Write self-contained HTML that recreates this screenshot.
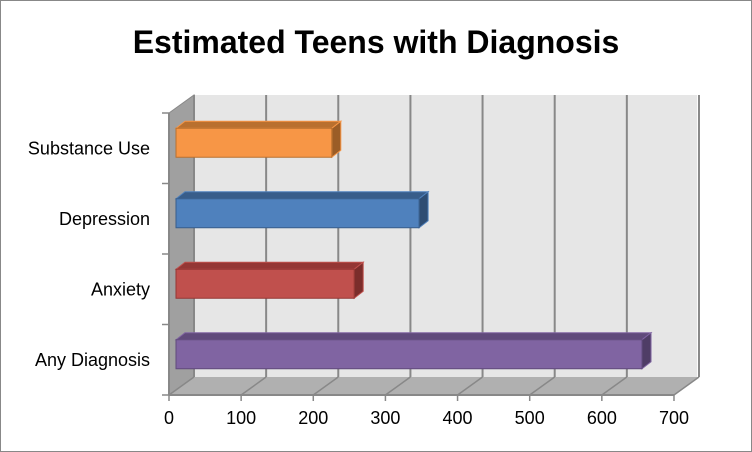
<!DOCTYPE html>
<html><head><meta charset="utf-8"><style>
body{margin:0;background:#fff}
svg{display:block;font-family:"Liberation Sans",Arial,sans-serif}
</style></head><body>
<svg id="c" width="752" height="452" viewBox="0 0 752 452">
<rect x="0.5" y="0.5" width="751" height="451" fill="#fff" stroke="#888"/>
<text x="376" y="53" text-anchor="middle" font-size="32" font-weight="bold" fill="#000">Estimated Teens with Diagnosis</text>
<g id="plot"></g>
</svg>
<script>
const categories=["Any Diagnosis","Anxiety","Depression","Substance Use"];
const values=[646,247,337,216];
const ticks=[0,100,200,300,400,500,600,700];
const colors=[["#8064a2","#604a7b","#4f3d66"],["#c0504d","#943634","#7b2d2b"],["#4f81bd","#385d8a","#2e4d73"],["#f79646","#b9702f","#9b5d27"]];
const NS="http://www.w3.org/2000/svg";
const g=document.getElementById('plot');
const fx0=169,bx0=194,sc=0.7214,fy=395,by=377,dX=25,dY=18,plotTop=113;
function xF(v){return fx0+v*sc;}
function yCat(i){return 395-(i+0.5)*70.5;}
function mk(t,a){const e=document.createElementNS(NS,t);for(const k in a)e.setAttribute(k,a[k]);g.appendChild(e);return e;}
let e;
e=mk('polygon',{points:`${bx0},${plotTop-dY} 697,${plotTop-dY} 697,${by} ${bx0},${by}`,fill:'#e6e6e6'});


e=mk('polygon',{points:`${fx0},${plotTop} ${bx0},${plotTop-dY} ${bx0},${by} ${fx0},${fy}`,fill:'#a0a0a0',stroke:'#888'});


e=mk('polygon',{points:`${fx0},${fy} ${bx0},${by} ${xF(700)+dX},${by} ${xF(700)},${fy}`,fill:'#b0b0b0'});


ticks.forEach(t=>{
 const x=xF(t);
 e=mk('line',{x1:x+dX,y1:plotTop-dY,x2:x+dX,y2:by,stroke:'#888','stroke-width':2});
 
 
 e=mk('line',{x1:x,y1:fy,x2:x+dX,y2:by,stroke:'#888','stroke-width':1.5});
 
 
 e=mk('line',{x1:x,y1:fy,x2:x,y2:fy+6,stroke:'#888','stroke-width':1.5});
 
 
 e=mk('text',{x:x,y:fy+29,'text-anchor':'middle','font-size':18,fill:'#000'});e.textContent=t;
 
 
});
e=mk('line',{x1:fx0,y1:fy,x2:xF(700),y2:fy,stroke:'#888','stroke-width':2});


e=mk('line',{x1:fx0,y1:plotTop,x2:fx0,y2:fy,stroke:'#888','stroke-width':2});


for(let i=0;i<=categories.length;i++){
 const y=fy-i*70.5;
 e=mk('line',{x1:fx0-7,y1:y,x2:fx0,y2:y,stroke:'#888','stroke-width':1.5});
 
 
}
categories.forEach((c,i)=>{
 const yc=yCat(i);
 e=mk('text',{x:150,y:yc+6,'text-anchor':'end','font-size':18,fill:'#000'});e.textContent=c;
 
 
 const x0=fx0+7,x1=x0+values[i]*sc,y0=yc-20,y1=yc+9,ox=9,oy=7;
 const col=colors[i];
 e=mk('polygon',{points:`${x0},${y0} ${x0+ox},${y0-oy} ${x1+ox},${y0-oy} ${x1},${y0}`,fill:col[1],stroke:col[0],'stroke-width':1});
 
 
 e=mk('polygon',{points:`${x1},${y0} ${x1+ox},${y0-oy} ${x1+ox},${y1-oy} ${x1},${y1}`,fill:col[2],stroke:col[0],'stroke-width':1});
 
 
 e=mk('rect',{x:x0,y:y0,width:x1-x0,height:y1-y0,fill:col[0],stroke:col[1],'stroke-width':1});
 
 
});
</script>
</body></html>
